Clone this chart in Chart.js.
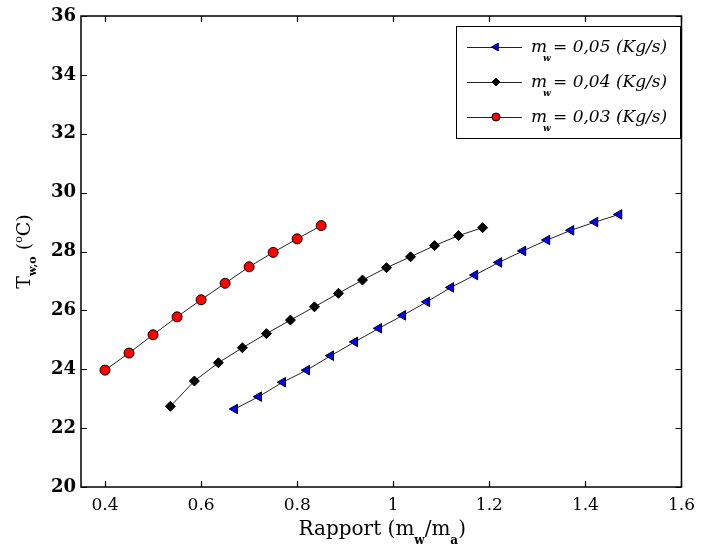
<!DOCTYPE html>
<html>
<head>
<meta charset="utf-8">
<script src="https://cdn.jsdelivr.net/npm/chart.js@4.4.1/dist/chart.umd.min.js"></script>
<style>
  html, body { margin: 0; padding: 0; background: #fff; }
</style>
</head>
<body>
<canvas id="rapportChart" width="703" height="552"></canvas>
<script>
// Rapport (mw/ma) on x, outlet water temperature on y
const rapport005 = [0.67, 0.72, 0.77, 0.82, 0.87, 0.92, 0.97, 1.02, 1.07, 1.12, 1.17, 1.22, 1.27, 1.32, 1.37, 1.42, 1.47];
const temp005 = [22.65, 23.07, 23.56, 23.97, 24.46, 24.93, 25.39, 25.83, 26.29, 26.78, 27.2, 27.63, 28.02, 28.39, 28.72, 29.0, 29.26];

const rapport004 = [0.536, 0.586, 0.636, 0.686, 0.736, 0.786, 0.836, 0.886, 0.936, 0.986, 1.036, 1.086, 1.136, 1.186];
const temp004 = [22.74, 23.6, 24.22, 24.73, 25.21, 25.67, 26.12, 26.58, 27.03, 27.45, 27.82, 28.2, 28.54, 28.81];

const rapport003 = [0.40, 0.45, 0.50, 0.55, 0.60, 0.65, 0.70, 0.75, 0.80, 0.85];
const temp003 = [23.97, 24.55, 25.17, 25.78, 26.36, 26.92, 27.48, 27.97, 28.43, 28.88];

const debits = ['0,05', '0,04', '0,03'];

const xTicks = [0.4, 0.6, 0.8, 1.0, 1.2, 1.4, 1.6];
const xTickLabels = ['0.4', '0.6', '0.8', '1', '1.2', '1.4', '1.6'];
const yTicks = [20, 22, 24, 26, 28, 30, 32, 34, 36];
const yTickLabels = ['20', '22', '24', '26', '28', '30', '32', '34', '36'];

function toPoints(xs, ys) {
    return xs.map((x, i) => ({ x: x, y: ys[i] }));
}

const serif = '"DejaVu Serif", "Liberation Serif", serif';

// draws a run of text pieces (with sub/superscripts) centred on x
function drawRich(ctx, parts, x, y) {
    let total = 0;
    parts.forEach(p => { ctx.font = p.font; total += ctx.measureText(p.t).width; });
    let cx = x - total / 2;
    ctx.textAlign = 'left';
    ctx.textBaseline = 'alphabetic';
    parts.forEach(p => {
        ctx.font = p.font;
        ctx.fillText(p.t, cx, y + (p.dy || 0));
        cx += ctx.measureText(p.t).width;
    });
}

const styles = [
    { color: '#0000ff', pointStyle: 'triangle', rotation: -90, radius: 5.5 },
    { color: '#000000', pointStyle: 'rectRot', rotation: 0, radius: 5 },
    { color: '#ff0000', pointStyle: 'circle', rotation: 0, radius: 5 }
];

// frame, inward ticks, axis titles and the legend box
const decorations = {
    id: 'decorations',
    afterDraw(chart) {
        const ctx = chart.ctx;
        const a = chart.chartArea;
        const xs = chart.scales.x, ys = chart.scales.y;
        ctx.save();
        ctx.strokeStyle = '#000';
        ctx.lineWidth = 1.5;
        ctx.strokeRect(a.left, a.top, a.right - a.left, a.bottom - a.top);

        ctx.lineWidth = 1.2;
        ctx.beginPath();
        xTicks.forEach(v => {
            const px = Math.round(xs.getPixelForValue(v)) + 0.5;
            ctx.moveTo(px, a.bottom); ctx.lineTo(px, a.bottom - 6);
            ctx.moveTo(px, a.top); ctx.lineTo(px, a.top + 6);
        });
        yTicks.forEach(v => {
            const py = Math.round(ys.getPixelForValue(v)) + 0.5;
            ctx.moveTo(a.left, py); ctx.lineTo(a.left + 6, py);
            ctx.moveTo(a.right, py); ctx.lineTo(a.right - 6, py);
        });
        ctx.stroke();

        // x title
        ctx.fillStyle = '#000';
        const big = '20px ' + serif;
        const sub = 'bold 12px ' + serif;
        drawRich(ctx, [
            { t: 'Rapport (m', font: big },
            { t: 'w', font: sub, dy: 9 },
            { t: '/m', font: big },
            { t: 'a', font: sub, dy: 9 },
            { t: ')', font: big }
        ], (a.left + a.right) / 2 + 1, 535);

        // y title
        ctx.save();
        ctx.translate(30, (a.top + a.bottom) / 2);
        ctx.rotate(-Math.PI / 2);
        drawRich(ctx, [
            { t: 'T', font: '19px ' + serif },
            { t: 'w,o', font: 'bold 11px ' + serif, dy: 6 },
            { t: ' (', font: '19px ' + serif },
            { t: 'o', font: '11px ' + serif, dy: -8 },
            { t: 'C)', font: '19px ' + serif }
        ], 0, 0);
        ctx.restore();

        // legend
        const bx = 456, by = 26, bw = 224, bh = 112;
        ctx.fillStyle = '#fff';
        ctx.fillRect(bx, by, bw, bh);
        ctx.lineWidth = 1;
        ctx.strokeStyle = '#000';
        ctx.strokeRect(bx + 0.5, by + 0.5, bw, bh);
        chart.data.datasets.forEach((ds, i) => {
            const ly = by + 21 + i * 35;
            ctx.strokeStyle = '#222';
            ctx.lineWidth = 1;
            ctx.beginPath();
            ctx.moveTo(467, ly + 0.5); ctx.lineTo(522, ly + 0.5);
            ctx.stroke();
            ctx.fillStyle = ds.pointBackgroundColor;
            ctx.strokeStyle = '#000';
            Chart.helpers.drawPoint(ctx, {
                pointStyle: ds.pointStyle, rotation: ds.rotation,
                radius: ds.pointRadius - 1, borderWidth: 1
            }, 496, ly);
            ctx.fillStyle = '#000';
            ctx.textAlign = 'left';
            ctx.font = 'italic 17px ' + serif;
            ctx.fillText('m', 531, ly + 5);
            ctx.font = 'bold italic 9px ' + serif;
            ctx.fillText('w', 543, ly + 14);
            ctx.font = 'italic 17px ' + serif;
            ctx.fillText('= ' + debits[i] + ' (Kg/s)', 553, ly + 5);
        });
        ctx.restore();
    }
};

const datasets = [
    toPoints(rapport005, temp005),
    toPoints(rapport004, temp004),
    toPoints(rapport003, temp003)
].map((pts, i) => ({
    label: 'mw = ' + debits[i] + ' (Kg/s)',
    data: pts,
    borderColor: '#222',
    borderWidth: 1,
    pointStyle: styles[i].pointStyle,
    rotation: styles[i].rotation,
    pointRadius: styles[i].radius,
    pointBackgroundColor: styles[i].color,
    pointBorderColor: '#000',
    pointBorderWidth: 1,
    tension: 0
}));

new Chart(document.getElementById('rapportChart'), {
    type: 'line',
    data: { datasets: datasets },
    options: {
        responsive: false,
        animation: false,
        layout: { padding: { top: 16, right: 15, left: 0, bottom: 0 } },
        plugins: { legend: { display: false }, tooltip: { enabled: false } },
        scales: {
            x: {
                type: 'linear',
                min: 0.35,
                max: 1.6,
                afterBuildTicks: s => { s.ticks = xTicks.map(v => ({ value: v })); },
                afterFit: s => { s.height = 65; },
                grid: { display: false, drawTicks: false },
                border: { display: false },
                ticks: {
                    padding: 8,
                    color: '#000',
                    font: { family: serif, size: 17 },
                    callback: (v) => xTickLabels[xTicks.indexOf(v)]
                }
            },
            y: {
                type: 'linear',
                min: 20,
                max: 36,
                afterBuildTicks: s => { s.ticks = yTicks.map(v => ({ value: v })); },
                afterFit: s => { s.width = 81; },
                grid: { display: false, drawTicks: false },
                border: { display: false },
                ticks: {
                    padding: 5,
                    color: '#000',
                    font: { family: serif, size: 18, weight: 'bold' },
                    callback: (v) => yTickLabels[yTicks.indexOf(v)]
                }
            }
        }
    },
    plugins: [decorations]
});
</script>
</body>
</html>
